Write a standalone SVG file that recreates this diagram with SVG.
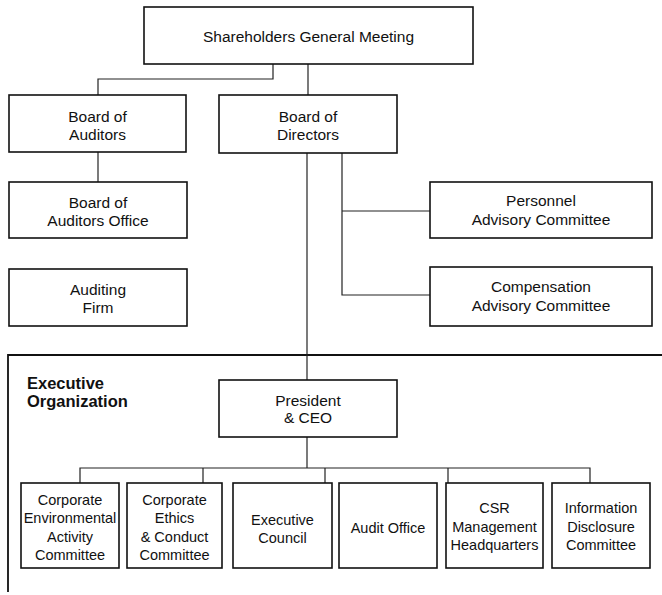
<svg xmlns="http://www.w3.org/2000/svg" width="662" height="595" viewBox="0 0 662 595">
<style>
.box{fill:#fff;stroke:#111;stroke-width:1.6}
.t{font-family:"Liberation Sans",Arial,sans-serif;font-size:15.5px;fill:#111;text-anchor:middle}
.s{font-family:"Liberation Sans",Arial,sans-serif;font-size:14.5px;fill:#111;text-anchor:middle}
.b{font-family:"Liberation Sans",Arial,sans-serif;font-size:16.5px;font-weight:bold;fill:#111}
.c{fill:none;stroke:#222;stroke-width:1.2}
.f{fill:none;stroke:#111;stroke-width:1.8}
</style>
<rect width="662" height="595" fill="#fff"/>
<g id="frame">
<path class="f" d="M8,592 V355 H662"/>
<text class="b" x="27" y="389">Executive</text>
<text class="b" x="27" y="407">Organization</text>
</g>
<g id="connectors">
<path class="c" d="M273,64 V79 H98 V95"/>
<path class="c" d="M308,64 V95"/>
<path class="c" d="M98,152 V182"/>
<path class="c" d="M307,153 V380"/>
<path class="c" d="M342,153 V295 H430 M342,211 H430"/>
<path class="c" d="M307,437 V468"/>
<path class="c" d="M80,483 V468 H590 V483 M203,468 V483 M325,468 V483 M448,468 V483"/>
</g>
<g id="shareholders">
<rect class="box" x="144" y="7" width="329" height="57"/>
<text class="t" x="308.5" y="42">Shareholders General Meeting</text>
</g>
<g id="board-auditors">
<rect class="box" x="9" y="95" width="177" height="57"/>
<text class="t" x="97.5" y="122">Board of</text>
<text class="t" x="97.5" y="140">Auditors</text>
</g>
<g id="board-directors">
<rect class="box" x="219" y="95" width="178" height="58"/>
<text class="t" x="308" y="122">Board of</text>
<text class="t" x="308" y="140">Directors</text>
</g>
<g id="auditors-office">
<rect class="box" x="9" y="182" width="178" height="56"/>
<text class="t" x="98" y="208">Board of</text>
<text class="t" x="98" y="226">Auditors Office</text>
</g>
<g id="auditing-firm">
<rect class="box" x="9" y="269" width="178" height="57"/>
<text class="t" x="98" y="295">Auditing</text>
<text class="t" x="98" y="313">Firm</text>
</g>
<g id="personnel">
<rect class="box" x="430" y="182" width="222" height="56"/>
<text class="t" x="541" y="206">Personnel</text>
<text class="t" x="541" y="225">Advisory Committee</text>
</g>
<g id="compensation">
<rect class="box" x="430" y="267" width="222" height="59"/>
<text class="t" x="541" y="292">Compensation</text>
<text class="t" x="541" y="311">Advisory Committee</text>
</g>
<g id="president">
<rect class="box" x="219" y="380" width="178" height="57"/>
<text class="t" x="308" y="406">President</text>
<text class="t" x="308" y="423">&amp; CEO</text>
</g>
<g id="environmental">
<rect class="box" x="21" y="483" width="98" height="85"/>
<text class="s" x="70" y="505">Corporate</text>
<text class="s" x="70" y="523">Environmental</text>
<text class="s" x="70" y="541.5">Activity</text>
<text class="s" x="70" y="560">Committee</text>
</g>
<g id="ethics">
<rect class="box" x="127" y="483" width="95" height="85"/>
<text class="s" x="174.5" y="505">Corporate</text>
<text class="s" x="174.5" y="523">Ethics</text>
<text class="s" x="174.5" y="541.5">&amp; Conduct</text>
<text class="s" x="174.5" y="560">Committee</text>
</g>
<g id="executive-council">
<rect class="box" x="233" y="483" width="99" height="85"/>
<text class="s" x="282.5" y="525">Executive</text>
<text class="s" x="282.5" y="543">Council</text>
</g>
<g id="audit-office">
<rect class="box" x="339" y="483" width="98" height="85"/>
<text class="s" x="388" y="533">Audit Office</text>
</g>
<g id="csr">
<rect class="box" x="446" y="483" width="97" height="85"/>
<text class="s" x="494.5" y="513">CSR</text>
<text class="s" x="494.5" y="531.5">Management</text>
<text class="s" x="494.5" y="550">Headquarters</text>
</g>
<g id="disclosure">
<rect class="box" x="552" y="483" width="98" height="85"/>
<text class="s" x="601" y="513">Information</text>
<text class="s" x="601" y="531.5">Disclosure</text>
<text class="s" x="601" y="550">Committee</text>
</g>
</svg>
